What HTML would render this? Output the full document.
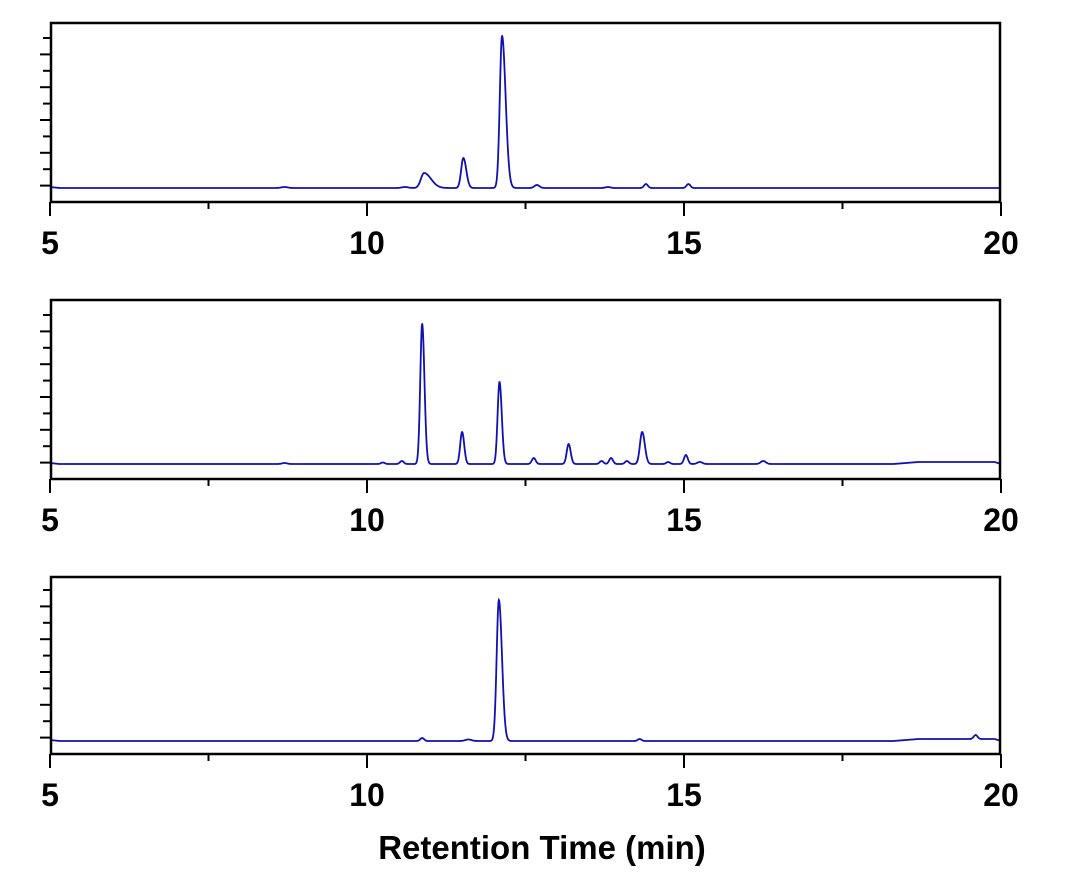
<!DOCTYPE html>
<html><head><meta charset="utf-8"><style>
html,body{margin:0;padding:0;background:#fff;}
svg{display:block;}
text{font-family:"Liberation Sans",Arial,sans-serif;font-weight:bold;fill:#000;}
</style></head><body>
<svg id="s" width="1088" height="877" xmlns="http://www.w3.org/2000/svg"></svg>
<script>
const s=document.getElementById('s');
const X=t=>50+(t-5)*63.4;
let h='';
const panels=[
 {top:23,bot:202,base:188,peaks:[[10.9,15,0.05,2.2],[11.52,30,0.035,1.3],[12.13,152,0.035,1.6],[12.68,3,0.04,1],[14.4,4,0.03,1],[15.07,4,0.03,1],[13.8,1,0.04,1],[10.6,1,0.05,1],[8.7,1,0.05,1]],rise:0},
 {top:300,bot:479,base:464,peaks:[[10.87,140,0.03,1.2],[10.55,3,0.03,1],[10.25,1.5,0.03,1],[11.5,32,0.03,1.1],[12.09,82,0.03,1.2],[12.63,6,0.03,1],[13.18,20,0.03,1.1],[13.7,3,0.03,1],[13.85,6,0.03,1],[14.1,3,0.03,1],[14.34,32,0.035,1.2],[14.75,2,0.03,1],[15.03,9,0.03,1],[15.25,2,0.04,1],[16.25,3,0.04,1],[8.7,1,0.04,1]],rise:2},
 {top:577,bot:754,base:741,peaks:[[12.08,141,0.035,1.4],[10.87,3,0.03,1],[11.6,1.5,0.05,1],[14.3,2,0.03,1],[19.6,4,0.03,1]],rise:2}
];
panels.forEach(p=>{
 let d='';
 for(let t=5;t<=20.001;t+=0.004){
  let y=p.base;
  if(t<5.15) y-= (5.15-t)/0.15*1;
  if(p.rise){ if(t>18.3&&t<19.9) y-=p.rise*Math.min(1,(t-18.3)/0.4); if(t>=19.9) y-=p.rise*Math.max(0,1-(t-19.9)/0.1);}
  p.peaks.forEach(([c,a,sg,tail])=>{const s2=t<c?sg:sg*tail;y-=a*Math.exp(-0.5*((t-c)/s2)**2);});
  d+=(d?'L':'M')+X(t).toFixed(2)+' '+y.toFixed(2);
 }
 h+=`<path d="${d}" fill="none" stroke="#1010b4" stroke-width="1.8"/>`;
 h+=`<rect x="51" y="${p.top}" width="949" height="${p.bot-p.top}" fill="none" stroke="#000" stroke-width="2.5"/>`;
 for(let i=1;i<=10;i++){const y=p.bot-16.4*i; if(y>p.top+5) h+=`<line x1="${i%2?40:43}" x2="51" y1="${y}" y2="${y}" stroke="#000" stroke-width="2"/>`;}
 for(let t=5;t<=20;t+=2.5){const x=X(t);const major=(t%5==0);h+=`<line x1="${x}" x2="${x}" y1="${p.bot}" y2="${p.bot+(major?14:7)}" stroke="#000" stroke-width="2"/>`;
  if(major)h+=`<text x="${x}" y="${p.bot+52}" font-size="32" text-anchor="middle">${t}</text>`;}
});
h+=`<text x="542" y="859" font-size="33" text-anchor="middle">Retention Time (min)</text>`;
s.innerHTML=h;
</script>
</body></html>
